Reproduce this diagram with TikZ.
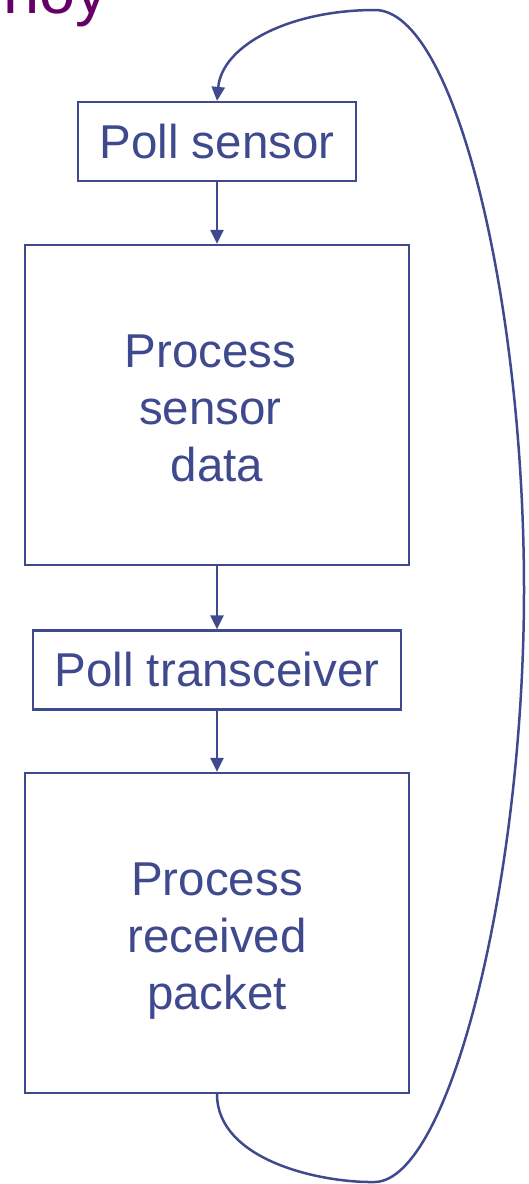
\documentclass[tikz,border=0pt]{standalone}
\usepackage{fontspec}
\setmainfont{Liberation Sans}
\usetikzlibrary{arrows.meta}
\definecolor{flowblue}{HTML}{3F4A8E}
\definecolor{titlepurple}{HTML}{660066}
\tikzset{
  stepfont/.style={text=flowblue, align=center, font=\fontsize{47.5}{57}\selectfont},
  stepbox/.style={draw=flowblue, line width=2.2pt, rectangle, inner sep=0pt, stepfont},
  flowarrow/.style={draw=flowblue, line width=2.5pt,
    -{Triangle[length=14pt,width=13pt]}},
}
\begin{document}
\begin{tikzpicture}[x=1pt,y=-1pt]
  \useasboundingbox (0,0) rectangle (529,1184);
  \clip (0,0) rectangle (529,1184);

  % heading, partly above the frame
  \node[anchor=base west, inner sep=0pt, text=titlepurple,
        font=\fontsize{65}{78}\selectfont] (title) at (3,13) {noy};

  % the four steps of the polling loop
  \node[stepbox, minimum width=278pt, minimum height=79pt] (ps) at (217,141.5) {Poll sensor};
  \node[stepbox, minimum width=384pt, minimum height=320pt,
        label={[name=pdtext, stepfont, yshift=-3pt]center:Process\rule{13pt}{0pt}\\sensor\rule{13pt}{0pt}\\data}]
        (pd) at (217,405) {};
  \node[stepbox, minimum width=368pt, minimum height=79pt] (pt) at (217,670) {Poll transceiver};
  \node[stepbox, minimum width=384pt, minimum height=320pt,
        label={[name=prtext, stepfont, yshift=-8pt]center:Process\\received\\packet}]
        (pr) at (217,933) {};

  \draw[flowarrow] (ps) -- (pd);
  \draw[flowarrow] (pd) -- (pt);
  \draw[flowarrow] (pt) -- (pr);

  % return path from the last step back to the first
  \coordinate (low) at (375,1182);
  \coordinate (right) at (524,590);
  \coordinate (top) at (375,10);
  \draw[flowarrow] (pr.south)
    .. controls (217,1160) and (320,1183) .. (low)
    .. controls (450,1180) and (524,880) .. (right)
    .. controls (524,300) and (455,10) .. (top)
    .. controls (290,10) and (222,45) .. (ps.north);
\end{tikzpicture}
\end{document}
